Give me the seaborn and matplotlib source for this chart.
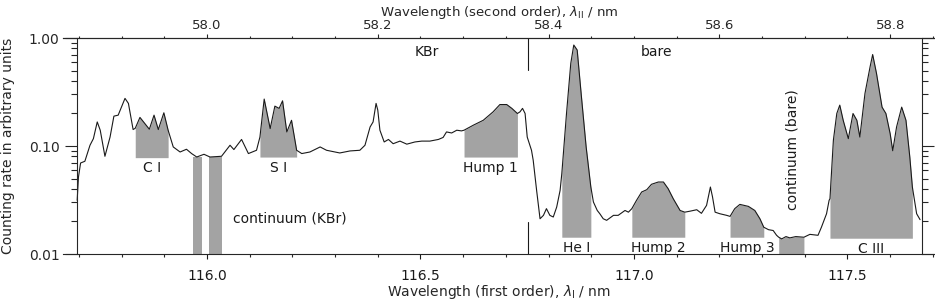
import numpy as np
import matplotlib
matplotlib.use('Agg')
import matplotlib.pyplot as plt
import seaborn as sns
from matplotlib.ticker import (MultipleLocator, FixedLocator, LogLocator,
                               FormatStrFormatter, NullFormatter)

# Spectrum: first-order wavelength (nm) and counting rate
wavelength = [
    115.696, 115.699, 115.704, 115.714, 115.726, 115.734, 115.743, 115.750, 115.761, 115.773,
    115.782, 115.792, 115.808, 115.816, 115.827, 115.832, 115.843, 115.852, 115.865, 115.876,
    115.886, 115.899, 115.909, 115.921, 115.937, 115.952, 115.964, 115.976, 115.993, 116.007,
    116.034, 116.054, 116.063, 116.081, 116.097, 116.116, 116.124, 116.134, 116.148, 116.159,
    116.169, 116.177, 116.187, 116.198, 116.210, 116.222, 116.241, 116.265, 116.280, 116.311,
    116.335, 116.358, 116.370, 116.382, 116.389, 116.396, 116.400, 116.405, 116.415, 116.425,
    116.436, 116.452, 116.468, 116.487, 116.503, 116.522, 116.542, 116.553, 116.561, 116.573,
    116.585, 116.596, 116.602, 116.624, 116.647, 116.670, 116.686, 116.702, 116.714, 116.727,
    116.733, 116.739, 116.745, 116.750, 116.760, 116.764, 116.772, 116.780, 116.788, 116.795,
    116.803, 116.811, 116.819, 116.827, 116.831, 116.842, 116.852, 116.859, 116.867, 116.877,
    116.888, 116.899, 116.905, 116.914, 116.920, 116.928, 116.936, 116.952, 116.963, 116.979,
    116.987, 116.995, 117.006, 117.018, 117.030, 117.041, 117.057, 117.069, 117.080, 117.092,
    117.108, 117.119, 117.131, 117.147, 117.158, 117.170, 117.179, 117.184, 117.190, 117.201,
    117.217, 117.225, 117.236, 117.248, 117.268, 117.283, 117.295, 117.304, 117.315, 117.326,
    117.334, 117.339, 117.346, 117.356, 117.365, 117.379, 117.398, 117.412, 117.431, 117.439,
    117.451, 117.457, 117.459, 117.467, 117.475, 117.482, 117.490, 117.502, 117.513, 117.522,
    117.529, 117.541, 117.553, 117.559, 117.568, 117.581, 117.590, 117.600, 117.606, 117.615,
    117.627, 117.637, 117.646, 117.652, 117.662, 117.670,
]
counts = [
    0.0314, 0.0516, 0.0696, 0.0722, 0.1016, 0.117, 0.167, 0.140, 0.0803, 0.121,
    0.189, 0.193, 0.276, 0.248, 0.142, 0.146, 0.184, 0.166, 0.143, 0.193,
    0.142, 0.203, 0.140, 0.098, 0.088, 0.0933, 0.0851, 0.0791, 0.0838, 0.0791,
    0.0803, 0.1016, 0.0927, 0.115, 0.0851, 0.0913, 0.121, 0.272, 0.145, 0.234,
    0.223, 0.262, 0.135, 0.173, 0.0913, 0.0851, 0.088, 0.098, 0.0913, 0.0862,
    0.090, 0.0913, 0.1016, 0.150, 0.167, 0.248, 0.215, 0.140, 0.109, 0.115,
    0.105, 0.111, 0.104, 0.109, 0.111, 0.111, 0.115, 0.120, 0.135, 0.132,
    0.140, 0.138, 0.140, 0.156, 0.173, 0.207, 0.242, 0.242, 0.223, 0.200,
    0.207, 0.223, 0.200, 0.121, 0.0913, 0.0738, 0.0388, 0.0212, 0.0228, 0.0263,
    0.0228, 0.0220, 0.0272, 0.0388, 0.0555, 0.200, 0.582, 0.861, 0.774, 0.285,
    0.098, 0.0417, 0.0303, 0.0253, 0.0236, 0.0212, 0.0205, 0.0228, 0.0228, 0.0253,
    0.0244, 0.0263, 0.0314, 0.0375, 0.0394, 0.0442, 0.0464, 0.0464, 0.0403, 0.0325,
    0.0253, 0.0244, 0.0249, 0.0257, 0.0238, 0.0282, 0.0417, 0.0337, 0.0244, 0.0236,
    0.0228, 0.0223, 0.0263, 0.0288, 0.0276, 0.0253, 0.0212, 0.0177, 0.0168, 0.0165,
    0.0149, 0.0143, 0.0138, 0.0145, 0.0141, 0.0145, 0.0143, 0.0152, 0.0149, 0.0177,
    0.0236, 0.0314, 0.0325, 0.113, 0.200, 0.239, 0.173, 0.117, 0.200, 0.173,
    0.121, 0.307, 0.542, 0.703, 0.470, 0.229, 0.200, 0.130, 0.0904, 0.150,
    0.229, 0.173, 0.0791, 0.0417, 0.0236, 0.0208,
]

# shaded line windows (nm) and the level the shading starts from
line_names = ['C I', 'S I', 'Hump 1', 'He I', 'Hump 2', 'Hump 3', 'C III']
line_start = [115.832, 116.124, 116.602, 116.831, 116.995, 117.225, 117.459]
line_end = [115.909, 116.210, 116.727, 116.899, 117.119, 117.304, 117.652]
line_base = [0.078, 0.079, 0.079, 0.0143, 0.0143, 0.0143, 0.014]

# continuum windows
kbr_start = [115.967, 116.005]
kbr_end = [115.988, 116.036]
kbr_level = 0.079
bare_start, bare_end = 117.339, 117.398

# KBr-coated / bare half of the grating
divider = 116.752

# tick labels
first_order_ticks = [116.0, 116.5, 117.0, 117.5]
second_order_ticks = [58.0, 58.2, 58.4, 58.6, 58.8]

sns.set_style('ticks')
plt.rcParams['font.family'] = ['DejaVu Sans']
plt.rcParams['font.size'] = 10
plt.rcParams['axes.linewidth'] = 0.8

ink = '#1a1a1a'
shade = '#a3a3a3'

W, H = 935, 304
fig = plt.figure(figsize=(W / 100, H / 100), dpi=100)
ax = fig.add_axes([63 / W, 50 / H, 872 / W, 216 / H])
ax_y = fig.add_axes([77 / W, 50 / H, 845 / W, 216 / H])

lam = np.array(wavelength)
cnt = np.array(counts)

for a, b, base in zip(line_start, line_end, line_base):
    sel = (lam >= a - 1e-6) & (lam <= b + 1e-6)
    ax.fill_between(lam[sel], base, cnt[sel], color=shade, lw=0, zorder=1)
for a, b in zip(kbr_start, kbr_end):
    ax.fill_between([a, b], 0.01, kbr_level, color=shade, lw=0, zorder=1)
sel = (lam >= bare_start - 1e-6) & (lam <= bare_end + 1e-6)
ax.fill_between(lam[sel], 0.01, cnt[sel], color=shade, lw=0, zorder=1)

sns.lineplot(x=lam, y=cnt, ax=ax, color=ink, lw=0.8, sort=False, estimator=None, zorder=3)

ax.plot([divider, divider], [1.0, 0.505], color=ink, lw=0.8)
ax.plot([divider, divider], [0.0197, 0.01], color=ink, lw=0.8)

for name, a, b, base in zip(line_names, line_start, line_end, line_base):
    ax.text((a + b) / 2, base * 0.8, name, ha='center', va='center', color=ink)
ax.text(116.062, 0.0214, 'continuum (KBr)', ha='left', va='center', color=ink)
ax.text(117.371, 0.0933, 'continuum (bare)', ha='center', va='center', rotation=90, color=ink)
ax.text(116.516, 0.742, 'KBr', ha='center', va='center', color=ink)
ax.text(117.052, 0.742, 'bare', ha='center', va='center', color=ink)

# x axis (first order) and its second-order twin on top
ax.set_yscale('log')
ax.set_ylim(0.01, 1.0)
ax.set_xlim(115.6628, 117.705)
ax.xaxis.set_major_locator(FixedLocator(first_order_ticks))
ax.xaxis.set_minor_locator(MultipleLocator(0.1))
ax.xaxis.set_major_formatter(FormatStrFormatter('%.1f'))
ax.tick_params(axis='x', which='major', direction='out', length=3.5, width=0.8, pad=7, colors=ink)
ax.tick_params(axis='x', which='minor', direction='out', length=1.8, width=0.8)
ax.tick_params(axis='y', which='both', left=False, labelleft=False)
ax.spines['left'].set_visible(False)
ax.spines['right'].set_visible(False)
ax.set_xlabel(r'Wavelength (first order), $\lambda_{\rm I}$ / nm', labelpad=0)
ax.set_ylabel('')
ax.patch.set_visible(False)

sec = ax.secondary_xaxis('top', functions=(lambda x: x / 2, lambda x: x * 2))
sec.xaxis.set_major_locator(FixedLocator(second_order_ticks))
sec.xaxis.set_minor_locator(MultipleLocator(0.05))
sec.xaxis.set_major_formatter(FormatStrFormatter('%.1f'))
sec.xaxis.set_minor_formatter(NullFormatter())
sec.tick_params(axis='x', which='major', direction='out', length=3, width=0.8, pad=1,
                labelsize=9.5)
sec.tick_params(axis='x', which='minor', direction='out', length=1.5, width=0.8)
sec.set_xlabel(r'Wavelength (second order), $\lambda_{\rm II}$ / nm', labelpad=2.5, fontsize=9.5)

# y axis drawn on its own frame, slightly inset from the x axis ends
ax_y.set_yscale('log')
ax_y.set_ylim(0.01, 1.0)
ax_y.set_xticks([])
ax_y.patch.set_visible(False)
ax_y.spines['top'].set_visible(False)
ax_y.spines['bottom'].set_visible(False)
ax_y.yaxis.set_major_locator(LogLocator(base=10))
ax_y.yaxis.set_minor_locator(LogLocator(base=10, subs=np.arange(2, 10)))
ax_y.yaxis.set_major_formatter(FormatStrFormatter('%.2f'))
ax_y.yaxis.set_minor_formatter(NullFormatter())
ax_y.tick_params(axis='y', which='major', left=True, right=True, direction='out',
                 length=8.5, width=0.8, pad=4)
ax_y.tick_params(axis='y', which='minor', left=True, right=True, direction='out',
                 length=4.3, width=0.8)
ax_y.set_ylabel('Counting rate in arbitrary units')
ax_y.yaxis.set_label_coords(-0.073, 0.5)

fig.savefig('out.png', dpi=100)
